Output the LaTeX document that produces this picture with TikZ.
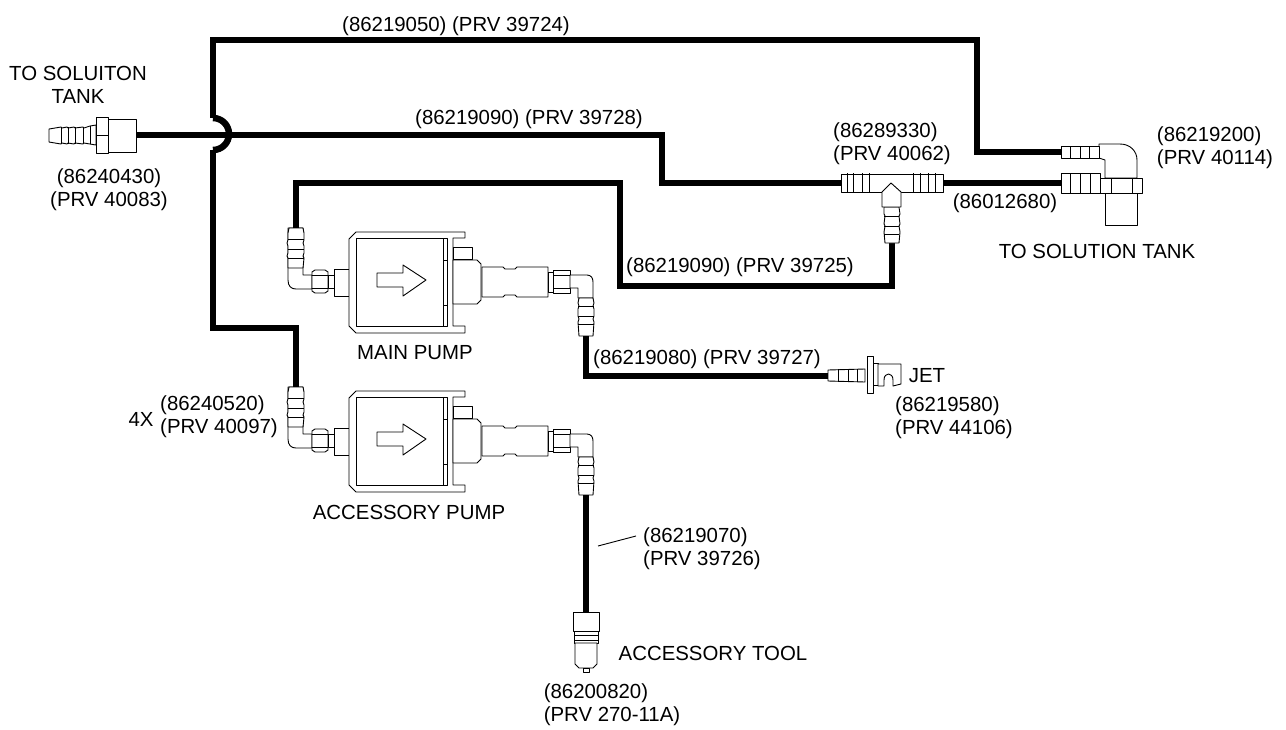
\documentclass[tikz,border=0pt]{standalone}
\usepackage{fontspec}
\setmainfont{Liberation Sans}
\usetikzlibrary{positioning}

\tikzset{
    pipe/.style={draw, line width=6.5pt, miter limit=10},
    part/.style={draw, fill=white, line width=0.9pt, line join=round},
    seam/.style={draw, line width=0.7pt},
    leader/.style={draw, line width=0.9pt},
    label/.style={inner sep=0pt, yshift=-2pt, font=\fontsize{20.4}{22.6}\selectfont},
    stack/.style={inner sep=0pt, yshift=-2pt, font=\fontsize{20.4}{22.6}\selectfont, align=left},
    % one pump with both elbows and barbs
    pumpunit/.pic={
        % left elbow and nut
        \path [part] (288,228) -- (288,280) .. controls (288,286) and (291,289) .. (296,289) -- (312,289) -- (312,275) -- (303,275) -- (303,228) -- cycle;
        \path [part] (289,228) -- (303,228) -- (304,233) -- (304,240) -- (303,243) -- (304,246) -- (304,253) -- (303,256) -- (304,258) -- (303,268) -- (288,268) -- (288,258) -- (287,256) -- (288,253) -- (288,246) -- (287,243) -- (288,240) -- (288,233) -- cycle;
        \path [seam] (288,239) -- (304,239) (288,249) -- (304,249) (288,258) -- (304,258);
        \path [part] (312,272) -- (315,270) -- (325,270) -- (328,272) -- (328,291) -- (325,293) -- (315,293) -- (312,291) -- cycle;
        \path [seam] (312,275) -- (328,275) (312,288) -- (328,288);
        \path [part] (328,275) rectangle (334,288);
        \path [part] (334,269) rectangle (349,296);
        % housing
        \path [part] (465,232) -- (356,232) -- (349,239) -- (349,326) -- (356,333) -- (465,333) -- (465,326) -- (453,326) -- (453,238) -- (465,238) -- cycle;
        \path [part] (356,238) rectangle (447,326);
        \path [seam] (443,238) -- (443,326) (443,260) -- (447,260) (443,305) -- (447,305);
        % outlet side
        \path [part] (453,247) rectangle (472,259);
        \path [part] (453,260) -- (477,260) -- (481,264) -- (481,300) -- (477,304) -- (453,304) -- cycle;
        \path [part] (482,267) -- (503,267) -- (505,269) -- (515,269) -- (517,267) -- (548,267) -- (548,297) -- (517,297) -- (515,295) -- (505,295) -- (503,297) -- (482,297) -- cycle;
        \path [part] (548,272) rectangle (553,292);
        \path [part] (553,270) -- (570,270) -- (570,293) -- (553,293) -- cycle;
        \path [seam] (553,275) -- (570,275) (553,288) -- (570,288);
        % right elbow and barb
        \path [part] (570,275) -- (587,275) .. controls (591,275) and (593,278) .. (593,282) -- (593,298) -- (578,298) -- (578,288) -- (570,288) -- cycle;
        \path [part] (579,298) -- (593,298) -- (594,303) -- (593,306) -- (594,309) -- (594,316) -- (593,319) -- (594,322) -- (593,336) -- (579,336) -- (578,322) -- (579,319) -- (578,316) -- (578,309) -- (579,306) -- (578,303) -- cycle;
        \path [seam] (578,306) -- (594,306) (578,316) -- (594,316) (578,324) -- (594,324);
        % arrow on the housing
        \path [part] (377,273) -- (403,273) -- (403,265) -- (426,280) -- (403,296) -- (403,287) -- (377,287) -- cycle;
        \coordinate (-in) at (296,228);
        \coordinate (-out) at (586,336);
    }
}

\begin{document}
\begin{tikzpicture}[x=1pt, y=-1pt]
\useasboundingbox (0,0) rectangle (1286,729);

% connection points
\coordinate (topjoint) at (213,118);
\coordinate (lowjoint) at (213,150);
\coordinate (feedA) at (136,135);
\coordinate (teeL) at (841,183);
\coordinate (teeR) at (943,183);
\coordinate (teeB) at (892,243);
\coordinate (elbowA) at (1061,152);
\coordinate (elbowB) at (1061,183);
\coordinate (jetin) at (828,376);
\coordinate (toolin) at (586,612);

% pumps
\pic (mainpump) at (0,0) {pumpunit};
\pic (accpump) at (0,159) {pumpunit};

% hoses
\path [pipe] (topjoint) -- (213,40) -- (977,40) -- (977,152) -- (elbowA);
\path [pipe] (lowjoint) -- (213,328) -- (296,328) -- (accpump-in);
\path [pipe] (topjoint) arc (-90:90:16);
\path [pipe] (feedA) -- (662,135) -- (662,183) -- (teeL);
\path [pipe] (teeR) -- (elbowB);
\path [pipe] (mainpump-in) -- (296,183) -- (620,183) -- (620,286) -- (892,286) -- (teeB);
\path [pipe] (mainpump-out) -- (586,376) -- (jetin);
\path [pipe] (accpump-out) -- (toolin);

% solution tank inlet fitting
\path [part] (49,129) -- (61,127) -- (62,128) -- (67,127) -- (68,128) -- (74,127) -- (75,128) -- (83,127) -- (84,128) -- (90,126) -- (96,125) -- (96,145) -- (90,144) -- (84,143) -- (83,144) -- (75,143) -- (74,144) -- (68,143) -- (67,144) -- (62,143) -- (61,144) -- (49,142) -- cycle;
\path [seam] (61,127) -- (61,144) (68,127) -- (68,144) (75,127) -- (75,144) (83,127) -- (83,144) (90,126) -- (90,144);
\path [part] (96,117) rectangle (108,153);
\path [seam] (96,135) -- (108,135);
\path [part] (108,119) -- (136,119) -- (136,152) -- (108,152) -- cycle;

% tee
\path [part] (841,174) -- (943,174) -- (943,192) -- (841,192) -- cycle;
\path [seam] (847,173) -- (847,193) (853,173) -- (853,193) (862,173) -- (862,193) (869,173) -- (869,193);
\path [seam] (913,173) -- (913,193) (920,173) -- (920,193) (928,173) -- (928,193) (935,173) -- (935,193);
\path [part] (884,207) -- (899,207) -- (900,214) -- (899,216) -- (900,224) -- (899,226) -- (900,232) -- (899,243) -- (885,243) -- (884,232) -- (885,226) -- (884,224) -- (885,216) -- (884,214) -- cycle;
\path [seam] (884,216) -- (899,216) (884,226) -- (899,226) (884,234) -- (899,234);
\path [part] (882,207) -- (882,192) -- (891,183) -- (901,192) -- (901,207) -- cycle;

% elbow at the tank
\path [part] (1099,144) -- (1120,144) .. controls (1130,144) and (1137,151) .. (1137,160) -- (1137,178) -- (1105,178) -- (1105,160) -- (1099,158) -- cycle;
\path [part] (1061,146) rectangle (1099,158);
\path [seam] (1070,146) -- (1070,158) (1080,146) -- (1080,158) (1089,146) -- (1089,158);
\path [part] (1105,193) rectangle (1137,225);
\path [part] (1061,173) rectangle (1100,193);
\path [seam] (1070,173) -- (1070,193) (1080,173) -- (1080,193) (1090,173) -- (1090,193);
\path [part] (1100,178) rectangle (1142,193);
\path [seam] (1111,178) -- (1111,193) (1132,178) -- (1132,193);

% jet
\path [part] (828,370) -- (865,369) -- (865,382) -- (828,381) -- cycle;
\path [seam] (838,369) -- (838,382) (848,369) -- (848,382) (857,369) -- (857,382);
\path [part] (867,356) rectangle (873,393);
\path [part] (873,363) rectangle (878,385);
\path [part] (878,364) -- (901,364) -- (901,384) -- (893,386) -- (893,380) .. controls (893,372) and (884,372) .. (884,380) -- (884,386) -- (878,386) -- cycle;

% accessory tool
\path [part] (574,631) rectangle (598,643);
\path [seam] (574,635) -- (598,635) (574,640) -- (598,640);
\path [part] (575,643) -- (597,643) -- (597,664) -- (593,668) -- (579,668) -- (575,664) -- cycle;
\path [part] (583,668) rectangle (589,672);
\path [part] (573,612) -- (599,612) -- (599,631) -- (573,631) -- cycle;

% labels
\node [stack, align=center] (tanklabel) at (78,83) {TO SOLUITON\\TANK};
\node [stack, align=center] (inletlabel) at (109,188) {(86240430)\\(PRV 40083)};
\node [label] (hoseA) at (456,24) {(86219050) (PRV 39724)};
\node [label] (hoseB) at (529,117) {(86219090) (PRV 39728)};
\node [stack] (teelabel) at (892,142) {(86289330)\\(PRV 40062)};
\node [stack] (elbowlabel) at (1215,146) {(86219200)\\(PRV 40114)};
\node [label] (hoseC) at (1005,201) {(86012680)};
\node [label] (tanktext) at (1097,249) {TO SOLUTION TANK};
\node [label] (hoseD) at (740,265) {(86219090) (PRV 39725)};
\node [label] (mainlabel) at (415,351) {MAIN PUMP};
\node [label] (hoseE) at (707,357) {(86219080) (PRV 39727)};
\node [label] (jetlabel) at (927,374) {JET};
\node [stack] (jetpart) at (954,416) {(86219580)\\(PRV 44106)};
\node [label] (fourx) at (141,417) {4X};
\node [stack] (barblabel) at (219,415) {(86240520)\\(PRV 40097)};
\node [label] (acclabel) at (409,510) {ACCESSORY PUMP};
\node [stack] (hoseF) at (702,547) {(86219070)\\(PRV 39726)};
\node [label] (toollabel) at (713,651) {ACCESSORY TOOL};
\node [stack] (toolpart) at (612,703) {(86200820)\\(PRV 270-11A)};

\coordinate (leadA) at (598,546);
\path [leader] (leadA) -- ([xshift=-7pt, yshift=13pt]hoseF.west);

\end{tikzpicture}
\end{document}
